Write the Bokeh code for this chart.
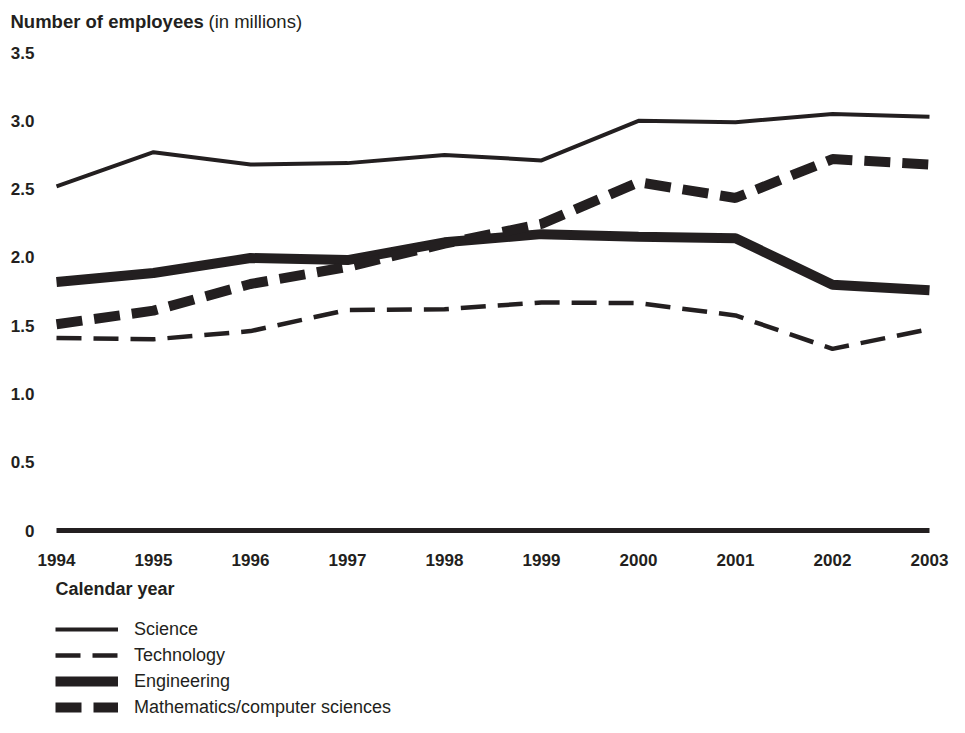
from bokeh.plotting import figure
from bokeh.models import Range1d, Legend, LegendItem
from bokeh.core.properties import value
from bokeh.embed import file_html
from bokeh.resources import INLINE

years = [1994, 1995, 1996, 1997, 1998, 1999, 2000, 2001, 2002, 2003]
science = [2.52, 2.77, 2.68, 2.69, 2.75, 2.71, 3.00, 2.99, 3.05, 3.03]
technology = [1.41, 1.40, 1.46, 1.615, 1.62, 1.67, 1.665, 1.575, 1.33, 1.475]
engineering = [1.82, 1.885, 1.995, 1.98, 2.11, 2.17, 2.15, 2.14, 1.80, 1.76]
math_cs = [1.51, 1.61, 1.805, 1.93, 2.10, 2.245, 2.55, 2.435, 2.72, 2.68]

series_names = ["Science", "Technology", "Engineering", "Mathematics/computer sciences"]
x_tick_labels = ["1994", "1995", "1996", "1997", "1998", "1999", "2000", "2001", "2002", "2003"]
y_ticks = [0, 0.5, 1.0, 1.5, 2.0, 2.5, 3.0, 3.5]
y_tick_labels = ["0", "0.5", "1.0", "1.5", "2.0", "2.5", "3.0", "3.5"]
title_bold = "Number of employees"
title_rest = "(in millions)"
x_title = "Calendar year"

INK = "#231f20"
FONT = "Liberation Sans"

# canvas geometry (pixels) -> data ranges
W, H = 949, 717
X_LEFT_PX, X_RIGHT_PX = 56, 929      # where first / last year sit
Y_ZERO_PX, Y_TOP_PX = 530, 52        # where 0 and 3.5 sit
x_scale = (X_RIGHT_PX - X_LEFT_PX) / (years[-1] - years[0])
y_scale = (Y_ZERO_PX - Y_TOP_PX) / y_ticks[-1]
x_range = Range1d(years[0] - X_LEFT_PX / x_scale, years[-1] + (W - X_RIGHT_PX) / x_scale)
y_range = Range1d(-(H - Y_ZERO_PX) / y_scale, y_ticks[-1] + Y_TOP_PX / y_scale)

p = figure(width=W, height=H, output_backend="svg", toolbar_location=None,
           x_range=x_range, y_range=y_range, min_border=0)
p.axis.visible = False
p.grid.visible = False
p.outline_line_color = None
p.background_fill_color = "white"
p.border_fill_color = "white"

# axis tick labels
p.text(x=[years[0]] * len(y_ticks), y=y_ticks, text=y_tick_labels, x_offset=-22,
       text_align="right", text_baseline="middle", text_font=value(FONT),
       text_font_style="bold", text_font_size="17px", text_color=INK)
p.text(x=years, y=[0] * len(years), text=x_tick_labels, y_offset=29,
       text_align="center", text_baseline="middle", text_font=value(FONT),
       text_font_style="bold", text_font_size="17px", text_color=INK)

# baseline at zero
p.line(x=[years[0], years[-1]], y=[0, 0], line_color=INK, line_width=5)

r_sci = p.line(years, science, line_color=INK, line_width=4)
r_tech = p.line(years, technology, line_color=INK, line_width=4.5, line_dash="25 12")
r_eng = p.line(years, engineering, line_color=INK, line_width=10)
r_math = p.line(years, math_cs, line_color=INK, line_width=10, line_dash="26 12")

# titles
p.text(x=[years[0]], y=[y_ticks[-1]], text=[title_bold], x_offset=-46, y_offset=-31,
       text_align="left", text_baseline="middle", text_font=value(FONT),
       text_font_style="bold", text_font_size="18.5px", text_color=INK)
p.text(x=[years[0]], y=[y_ticks[-1]], text=[title_rest], x_offset=152, y_offset=-31,
       text_align="left", text_baseline="middle", text_font=value(FONT),
       text_font_size="18.5px", text_color=INK)
p.text(x=[years[0]], y=[0], text=[x_title], x_offset=-1, y_offset=58,
       text_align="left", text_baseline="middle", text_font=value(FONT),
       text_font_style="bold", text_font_size="18px", text_color=INK)

legend = Legend(items=[LegendItem(label=n, renderers=[r]) for n, r in
                       zip(series_names, [r_sci, r_tech, r_eng, r_math])],
                location=(55, -3), orientation="vertical",
                glyph_width=63, glyph_height=26, label_height=26, spacing=0,
                padding=0, margin=0, label_standoff=16,
                border_line_color=None, background_fill_alpha=0,
                label_text_font=FONT, label_text_font_size="18px",
                label_text_color=INK)
p.add_layout(legend)

open("out.html", "w").write(file_html(p, INLINE))
